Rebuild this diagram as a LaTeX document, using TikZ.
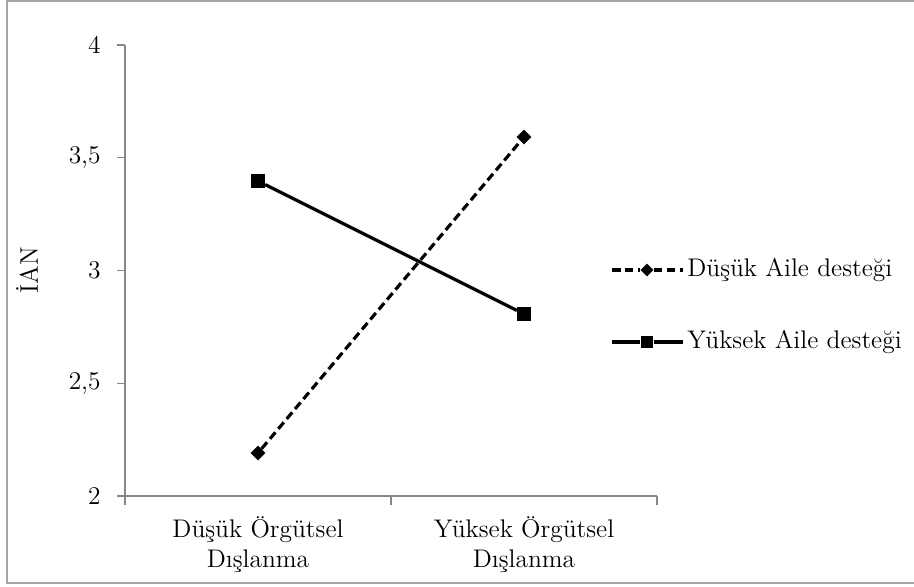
\documentclass[tikz,border=0pt]{standalone}
\definecolor{axisgray}{HTML}{878787}
\definecolor{framegray}{HTML}{A6A6A6}
\usepackage{xcolor}
\usepackage{tikz}
\usetikzlibrary{shapes.geometric}

\begin{document}
\begin{tikzpicture}[x=0.02cm, y=-0.02cm, font=\fontsize{14.5}{17}\selectfont,
    sqmark/.style={rectangle, fill=black, inner sep=0, minimum size=0.27cm},
    dmmark/.style={diamond, fill=black, inner sep=0, minimum size=0.3cm},
    dashline/.style={line width=1.8pt, dash pattern=on 0.17cm off 0.09cm},
    solidline/.style={line width=1.8pt}]
      \useasboundingbox (0,0) rectangle (914,586);
      % chart frame (cut off on the right)
      \draw[framegray, line width=0.8pt] (914,1) -- (7,1) -- (7,583) -- (914,583);
      % axes
      \coordinate (ytop) at (125,45);
      \coordinate (o) at (125,496);
      \coordinate (xend) at (657,496);
      \draw[axisgray, line width=0.8pt] (ytop) -- (o) -- (xend);
      % y ticks and labels
      \foreach \v/\lab [count=\i] in {2/2, 2.5/{2,5}, 3/3, 3.5/{3,5}, 4/4} {
        \pgfmathsetmacro\yy{45+(4-\v)*225.5}
        \coordinate (yt\i) at (125,\yy);
        \draw[axisgray, line width=0.8pt] (yt\i) -- ++(-8,0);
        \node[anchor=east, inner sep=0] (ylab\i) at (101,\yy) {\lab};
      }
      % x ticks
      \foreach \x [count=\i] in {125,391,657} {
        \coordinate (xt\i) at (\x,496);
        \draw[axisgray, line width=0.8pt] (xt\i) -- ++(0,9);
      }
      % axis titles
      \node[rotate=90] (ytitle) at (27,270) {İAN};
      \node[align=center] (cat1) at (258,545) {Düşük Örgütsel\\Dışlanma};
      \node[align=center] (cat2) at (524,545) {Yüksek Örgütsel\\Dışlanma};
      % Düşük Aile desteği
      \node[dmmark] (d1) at (258,453) {};
      \node[dmmark] (d2) at (524,137) {};
      \draw[dashline] (d1) -- (d2);
      % Yüksek Aile desteği
      \node[sqmark] (y1) at (258,181) {};
      \node[sqmark] (y2) at (524,314) {};
      \draw[solidline] (y1) -- (y2);
      % legend
      \coordinate (la1) at (612,270);
      \coordinate (lb1) at (683,270);
      \node[dmmark, minimum size=0.26cm] (lm1) at (647,270) {};
      \draw[dashline] (la1) -- (lm1) -- (lb1);
      \node[anchor=west, inner sep=0] (lt1) at (687,270) {Düşük Aile desteği};
      \coordinate (la2) at (612,342);
      \coordinate (lb2) at (683,342);
      \node[sqmark, minimum size=0.25cm] (lm2) at (647,342) {};
      \draw[solidline] (la2) -- (lm2) -- (lb2);
      \node[anchor=west, inner sep=0] (lt2) at (687,342) {Yüksek Aile desteği};
\end{tikzpicture}
\end{document}
